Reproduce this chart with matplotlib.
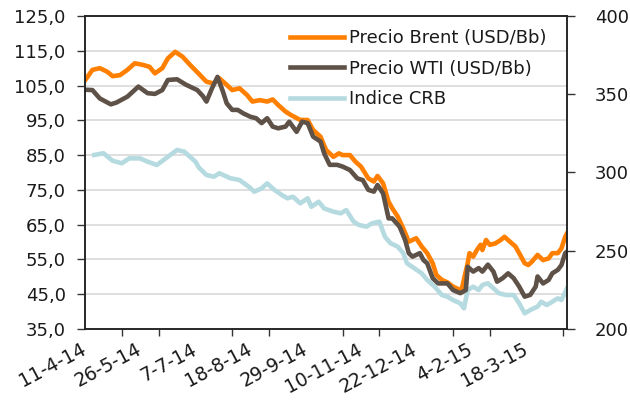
import numpy as np
import matplotlib
matplotlib.use("Agg")
import matplotlib.pyplot as plt
from matplotlib.ticker import FuncFormatter, MultipleLocator, FixedLocator

# x = business-day index since 11-4-14
brent_days = [0, 4, 8, 12, 15, 19, 23, 27, 31, 35,
              38, 42, 45, 49, 53, 57, 62, 66, 70, 73,
              77, 80, 84, 88, 91, 95, 99, 102, 105, 109,
              112, 117, 121, 124, 128, 131, 135, 138, 140, 144,
              147, 150, 154, 157, 159, 162, 165, 167, 170, 173,
              176, 178, 180, 183, 186, 189, 191, 194, 197, 200,
              204, 205, 208, 209, 211, 213, 215, 216, 218, 220,
              223, 226, 228, 231, 234, 236, 239, 241, 243, 246,
              249, 252, 254, 257, 259, 261, 262]
brent = [106.5, 109.5, 110, 109, 107.7, 108, 109.5, 111.4, 111, 110.4,
         108.5, 110, 112.8, 114.7, 113.3, 111, 108.3, 106.1, 105.6, 107.1,
         105.2, 103.7, 104.2, 102.3, 100.4, 100.8, 100.4, 101, 99.4, 97.5,
         96.5, 95.1, 95.1, 92.2, 90.3, 86.5, 84.5, 85.5, 85, 85,
         83.1, 81.7, 78.3, 77.4, 79, 76.9, 71.6, 69.7, 67.3, 63.9,
         60.1, 60.6, 61.1, 58.7, 56.8, 53.9, 50.5, 49.1, 48.4, 47.2,
         46.2, 47, 53.9, 56.8, 55.8, 57.7, 59.2, 57.7, 60.6, 59.2,
         59.6, 60.6, 61.5, 60.1, 58.7, 56.8, 53.9, 53.4, 54.4, 56.3,
         54.8, 55.3, 56.8, 56.8, 58.2, 61.5, 62.5]

wti_days = [0, 4, 8, 14, 17, 23, 29, 34, 38, 42,
            45, 50, 55, 61, 64, 66, 69, 72, 75, 77,
            80, 83, 86, 90, 93, 96, 99, 102, 105, 109,
            111, 115, 118, 121, 124, 128, 130, 133, 137, 140,
            144, 148, 151, 154, 157, 159, 162, 165, 167, 171,
            174, 176, 178, 182, 184, 186, 189, 192, 195, 197,
            200, 204, 207, 208, 211, 214, 216, 219, 222, 224,
            227, 230, 233, 236, 239, 242, 245, 246, 249, 252,
            254, 257, 259, 261, 262]
wti = [103.8, 103.7, 101.3, 99.6, 100.1, 101.8, 104.7, 102.8, 102.6, 103.7,
       106.6, 106.8, 105.2, 103.7, 102, 100.4, 104.2, 107.5, 103.2, 99.9,
       98, 98, 97, 96, 95.6, 94.2, 95.6, 93.2, 92.7, 93.2,
       94.6, 91.7, 94.6, 94.2, 90.3, 88.9, 85.5, 82.2, 82.2, 81.7,
       80.7, 78.3, 77.8, 75, 74.5, 76.4, 74, 66.8, 66.8, 64.4,
       60.6, 56.8, 55.8, 56.8, 54.8, 53.9, 49.6, 48.1, 48.1, 48.1,
       46.2, 45.3, 46.2, 52.9, 51.5, 52.5, 51.5, 53.5, 51.5, 48.6,
       49.6, 51, 49.6, 47.2, 44.3, 44.8, 47.2, 50.1, 48.1, 49.1,
       51, 52, 53.4, 56.8, 57.2]

crb_days = [5, 10, 15, 20, 24, 30, 34, 39, 45, 50,
            54, 60, 62, 66, 70, 73, 79, 84, 89, 92,
            96, 99, 103, 107, 110, 113, 117, 121, 123, 127,
            130, 135, 139, 142, 146, 149, 153, 156, 160, 163,
            166, 170, 173, 175, 179, 183, 186, 190, 194, 197,
            200, 204, 206, 208, 211, 214, 216, 219, 222, 225,
            229, 233, 236, 239, 242, 246, 248, 251, 254, 257,
            259, 262]
crb = [311.2, 312.3, 307.5, 305.9, 309, 309, 306.9, 304.8, 310, 314.4,
       313.3, 306.9, 303, 298.4, 297.3, 299.5, 296.3, 295.2, 290.9, 287.7,
       289.9, 293, 288.8, 285.6, 283.5, 284.5, 280.3, 283.5, 278.1, 281.3,
       277, 275, 273.9, 276, 268.6, 266.4, 265.4, 267.5, 268.6, 259,
       254.8, 252.6, 248.4, 242, 238.8, 235.6, 231.3, 227.1, 221.7, 220.6,
       218.5, 216.4, 213.2, 224.9, 227, 224.9, 228.1, 229.2, 226, 222.8,
       221.7, 221.7, 216.4, 210, 212.1, 214.3, 217.4, 215.3, 217.4, 219.6,
       218.5, 226]

tick_labels = ["11-4-14", "26-5-14", "7-7-14", "18-8-14", "29-9-14",
               "10-11-14", "22-12-14", "4-2-15", "18-3-15"]

c_brent = "#FF8000"
c_wti = "#5E5147"
c_crb = "#B5DAE0"
txt = "#1a1a1a"

fig = plt.figure(figsize=(6.3, 4.05), dpi=100)
ax = fig.add_axes([0.135, 0.1877, 0.765, 0.7728])
ax2 = ax.twinx()
ax.set_xlim(0, 262)
ax.set_ylim(35, 125)
ax2.set_ylim(200, 400)

# CRB uses the right-hand scale but is drawn in ax so it sits below the oil lines
l3, = ax.plot(crb_days, crb, color=c_crb, lw=3.3, label="Indice CRB",
              transform=ax2.transData)
l1, = ax.plot(brent_days, brent, color=c_brent, lw=3.3, label="Precio Brent (USD/Bb)")
l2, = ax.plot(wti_days, wti, color=c_wti, lw=3.3, label="Precio WTI (USD/Bb)")
ax.set_xlim(0, 262)
ax.set_ylim(35, 125)

ax.yaxis.set_major_locator(FixedLocator(np.arange(35, 126, 10)))
ax.yaxis.set_major_formatter(FuncFormatter(lambda v, p: f"{v:.1f}".replace(".", ",")))
ax2.yaxis.set_major_locator(MultipleLocator(50))
ax.grid(axis="y", color="#D9D9D9", lw=1.2)
ax.set_axisbelow(True)

ax.xaxis.set_major_locator(FixedLocator([30 * i for i in range(len(tick_labels))]))
ax.set_xticklabels(tick_labels)
ax.xaxis.set_minor_locator(MultipleLocator(20))
ax.tick_params(axis="x", which="major", length=0, pad=14, labelsize=13.5, labelcolor=txt)
ax.tick_params(axis="x", which="minor", length=5, width=1, color="#333")
for lab in ax.get_xticklabels():
    lab.set_rotation(28)
    lab.set_ha("right")
    lab.set_rotation_mode("anchor")
    lab.set_va("center")

ax.tick_params(axis="y", length=6, width=1, color="#333", pad=8, labelsize=13, labelcolor=txt)
ax2.tick_params(axis="y", length=6, width=1, color="#333", pad=14, labelsize=13, labelcolor=txt)

for a in (ax, ax2):
    for s in a.spines.values():
        s.set_color("#222")
        s.set_linewidth(1.1)

ax2.legend(handles=[l1, l2, l3], loc="upper left", bbox_to_anchor=(0.425, 0.957),
           frameon=False, fontsize=13, handlelength=3.0, handletextpad=0.3,
           labelspacing=0.68, borderpad=0, borderaxespad=0, labelcolor=txt)

fig.savefig("out.png", dpi=100)
